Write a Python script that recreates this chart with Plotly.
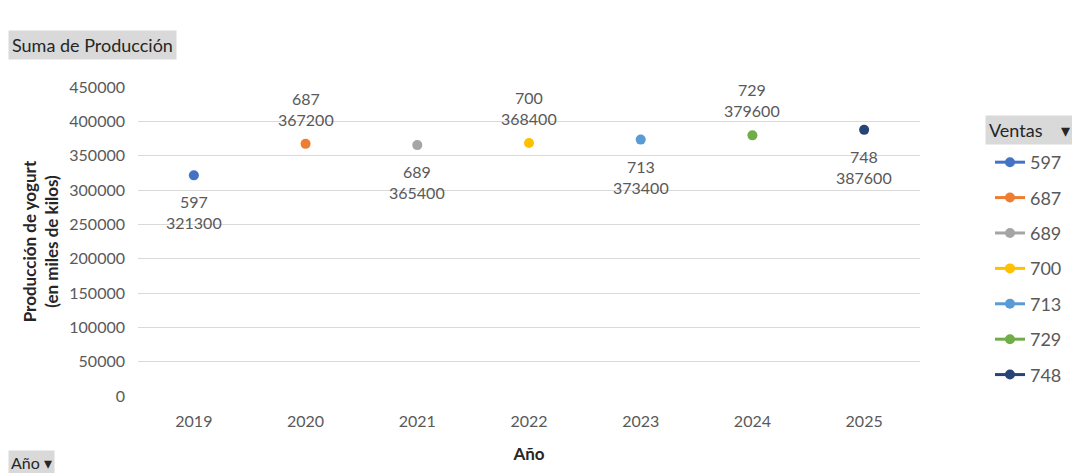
import plotly.graph_objects as go

years = ["2019", "2020", "2021", "2022", "2023", "2024", "2025"]
ventas = ["597", "687", "689", "700", "713", "729", "748"]
produccion = [321300, 367200, 365400, 368400, 373400, 379600, 387600]
label_below = [True, False, True, False, True, False, True]
colors = ["#4472C4", "#ED7D31", "#A5A5A5", "#FFC000", "#5B9BD5", "#70AD47", "#264478"]
y_ticks = [0, 50000, 100000, 150000, 200000, 250000, 300000, 350000, 400000, 450000]

FONT = "Lato, 'Open Sans', sans-serif"
GRAY = "#595959"
DARK = "#262626"

fig = go.Figure()
for i, (yr, v, p) in enumerate(zip(years, ventas, produccion)):
    fig.add_trace(go.Scatter(
        x=[yr], y=[p], name=v, legendgroup=v,
        mode="lines+markers",
        marker=dict(color=colors[i], size=10),
        line=dict(color=colors[i], width=3),
    ))
    below = label_below[i]
    fig.add_annotation(
        x=i, y=p, xref="x", yref="y", text=f"{v}<br>{p}", showarrow=False,
        xanchor="center", yanchor="top" if below else "bottom",
        yshift=-15 if below else 13,
        font=dict(family=FONT, size=16, color=GRAY),
    )

fig.update_layout(
    width=1072, height=473,
    margin=dict(l=138, r=152, t=87, b=77),
    paper_bgcolor="white", plot_bgcolor="white",
    font=dict(family=FONT, size=16, color=GRAY),
    xaxis=dict(
        type="category", categoryorder="array", categoryarray=years,
        range=[-0.5, 6.5], showgrid=False, zeroline=False, showline=False,
        ticks="", tickfont=dict(size=16, color=GRAY), ticklabelstandoff=14,
        title=dict(text="<b>Año</b>", font=dict(size=17, color=DARK), standoff=19),
    ),
    yaxis=dict(
        range=[0, 450000], tickvals=y_ticks, ticktext=[str(t) for t in y_ticks],
        showgrid=True, gridcolor="#D9D9D9", gridwidth=1, zeroline=False,
        showline=False, ticks="", tickfont=dict(size=16, color=GRAY),
        ticklabelstandoff=12,
        title=dict(text="<b>Producción de yogurt<br>(en miles de kilos)</b>",
                   font=dict(size=17, color=DARK), standoff=6),
    ),
    legend=dict(
        xref="container", yref="container",
        x=0.9235, xanchor="left", y=0.6956, yanchor="top",
        font=dict(family=FONT, size=18, color=GRAY),
        tracegroupgap=9, itemwidth=30, maxheight=320,
        bgcolor="rgba(0,0,0,0)",
    ),
    showlegend=True,
)

fig.add_annotation(xref="paper", yref="paper", x=-0.1662, y=1.136, xanchor="left", yanchor="middle",
                   text="Suma de Producción", showarrow=False, bgcolor="#D9D9D9",
                   font=dict(family=FONT, size=18, color=DARK), borderpad=3)
fig.add_annotation(xref="paper", yref="paper", x=1.083, y=0.861, xanchor="left", yanchor="middle",
                   text="Ventas    ▾", showarrow=False, bgcolor="#D9D9D9",
                   font=dict(family=FONT, size=18, color=DARK), borderpad=3)
fig.add_annotation(xref="paper", yref="paper", x=-0.1662, y=-0.214, xanchor="left", yanchor="middle",
                   text="Año ▾", showarrow=False, bgcolor="#D9D9D9",
                   font=dict(family=FONT, size=16, color=DARK), borderpad=2)

fig.write_html("out.html")
